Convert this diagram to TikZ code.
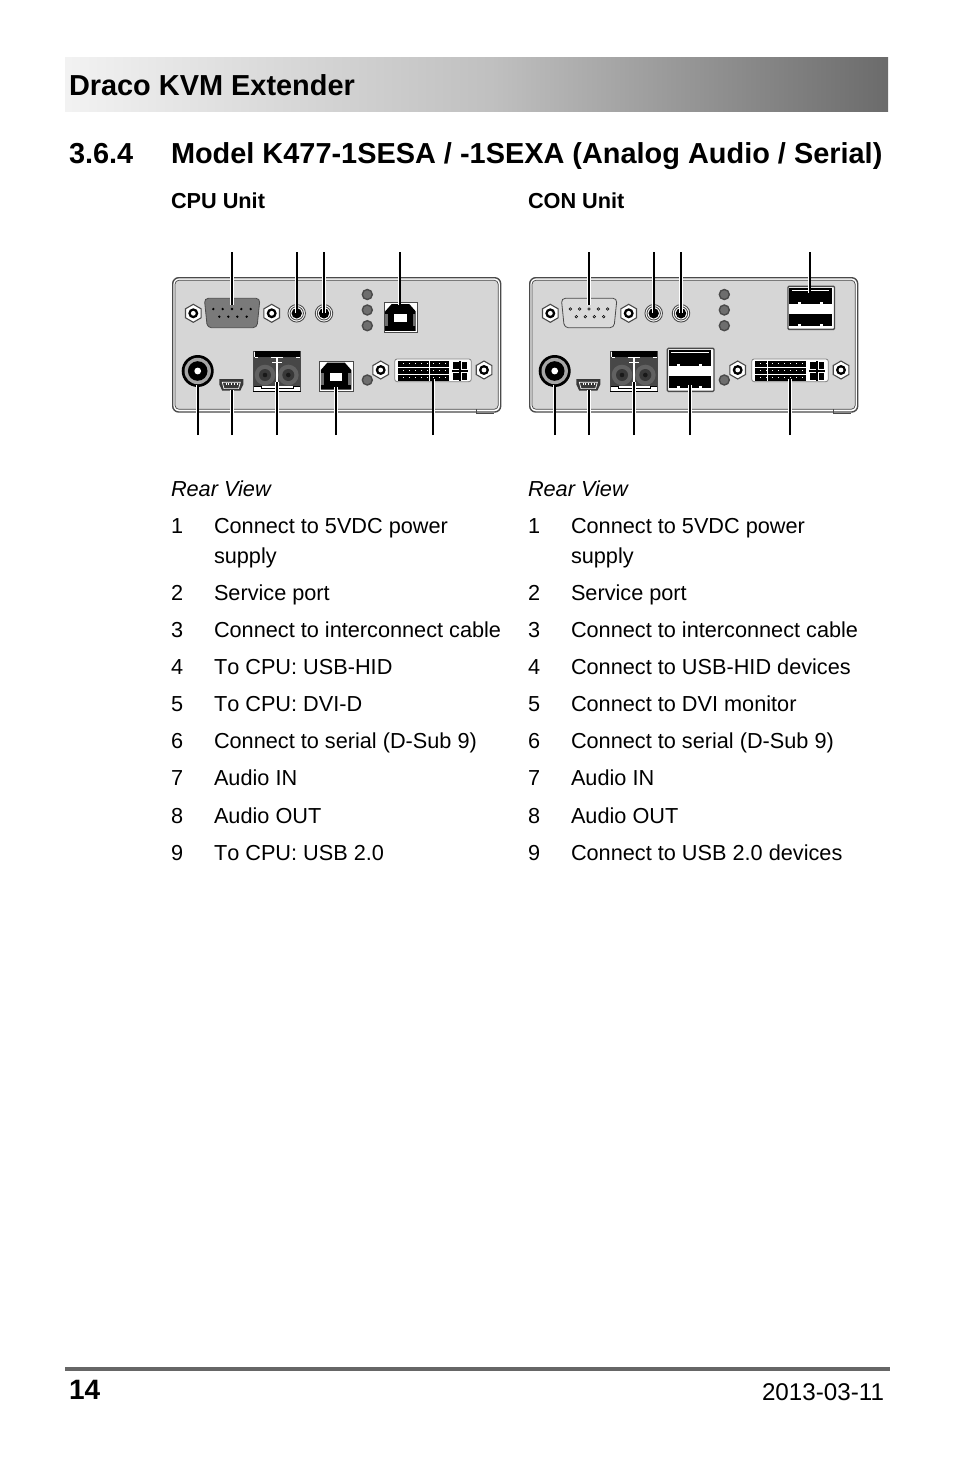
\documentclass[tikz,border=0pt]{standalone}
\usepackage{fontspec}
\setmainfont{Liberation Sans}
\usetikzlibrary{shapes.geometric}
\definecolor{panelgray}{HTML}{D6D6D6}
\definecolor{edgegray}{HTML}{4A4A4A}
\definecolor{ledgray}{HTML}{6E6E6E}
\definecolor{dsubdark}{HTML}{7A7A7A}
\definecolor{dsublight}{HTML}{DADADA}
\definecolor{rulegray}{HTML}{666666}
\tikzset{
  txt/.style={inner sep=0pt,outer sep=0pt,anchor=base west,text=black,font=\fontsize{21.7}{26}\selectfont},
  boldtxt/.style={txt,font=\fontsize{21.7}{26}\selectfont\bfseries},
  headtxt/.style={txt,font=\fontsize{28.9}{34}\selectfont\bfseries},
  leader/.style={line width=2pt,black,preaction={draw=white,line width=3.4pt}},
  screwnut/.style={regular polygon,regular polygon sides=6,regular polygon rotate=30,minimum size=18pt,inner sep=0pt,draw=edgegray,line width=1.1pt,fill=white},
  led/.style={circle,minimum size=10pt,inner sep=0pt,draw=edgegray,line width=1.4pt,fill=ledgray},
  portbox/.style={rectangle,inner sep=0pt,draw=edgegray,line width=1pt,fill=white},
}
\newcommand{\screw}[3]{%
  \node[screwnut] (#1) at (#2,#3) {};
  \fill[black] (#2,#3) circle (5);
  \fill[white] (#2,#3) circle (2.4);
}
\newcommand{\jack}[3]{%
  \node[circle,minimum size=17.5pt,inner sep=0pt,draw=edgegray,line width=.9pt,fill=white] (#1) at (#2,#3) {};
  \draw[edgegray,line width=.9pt] (#2,#3) circle (6.7);
  \fill[black] (#2,#3) circle (5.2);
}
\newcommand{\usbb}[3]{% name, left, top
  \node[portbox,minimum width=33.4pt,minimum height=30pt,anchor=north west] (#1) at (#2,#3) {};
  \begin{scope}[shift={(#2,#3)}]
    \fill[black] (1.5,28.5) -- (1.5,9) -- (8,1.7) -- (25.5,1.7) -- (32,9) -- (32,28.5) -- cycle;
    \fill[ledgray] (1.5,12) rectangle (4.5,24);
    \fill[ledgray] (29,12) rectangle (32,24);
    \fill[white] (10.5,11.5) rectangle (23,20);
  \end{scope}
}
\newcommand{\usba}[3]{% name, left, top
  \node[portbox,line width=1.3pt,rounded corners=1pt,minimum width=46.6pt,minimum height=43pt,anchor=north west] (#1) at (#2,#3) {};
  \begin{scope}[shift={(#2,#3)}]
    \fill[black] (2,2.5) rectangle (44.6,18);
    \fill[white] (4.5,4) rectangle (42,5.4);
    \fill[black] (2,28) rectangle (44.6,40.5);
    \fill[white] (10.5,16.2) rectangle (13.5,18);
    \fill[white] (32.5,16.2) rectangle (35.5,18);
    \fill[white] (10.5,38.7) rectangle (13.5,40.5);
    \fill[white] (32.5,38.7) rectangle (35.5,40.5);
  \end{scope}
}
% prefix, dsub fill, pin colour, pin hole colour, dvi split x
\newcommand{\panelcommon}[5]{%
  \fill[white,draw=edgegray,line width=1.4pt,rounded corners=6pt] (172.7,277.7) rectangle (500.7,412);
  \fill[panelgray,draw=edgegray,line width=.7pt,rounded corners=4pt] (175,280.2) rectangle (498.2,409.3);
  \draw[edgegray,line width=1pt] (476,409.3) -- (476,413) -- (494,413);
  % D-Sub
  \coordinate (#1-dsub) at (232,313);
  \filldraw[draw=edgegray,line width=.8pt,fill=#2,rounded corners=4pt] (204.3,298.3) -- (260,298.3) -- (257,327.7) -- (207.3,327.7) -- cycle;
  \foreach \px in {213.3,222.7,232,241.3,250.7} \fill[#3] (\px,309) circle (1.3);
  \foreach \px in {219.3,228.3,237.3,246.7} \fill[#3] (\px,316.7) circle (1.3);
  \screw{#1-s1}{193.3}{313.3}
  \screw{#1-s2}{271.7}{313.3}
  \jack{#1-j1}{296.7}{313.3}
  \jack{#1-j2}{324}{313.3}
  \node[led] (#1-l1) at (367.3,294.5) {};
  \node[led] (#1-l2) at (367.3,310) {};
  \node[led] (#1-l3) at (367.3,325.7) {};
  \node[led] (#1-l4) at (367.3,380) {};
  % power
  \node[circle,minimum size=32pt,inner sep=0pt,fill=black] (#1-pw) at (197.7,371) {};
  \fill[gray!70] (197.7,371) circle (13.2);
  \fill[black] (197.7,371) circle (9.8);
  \fill[white] (197.7,371) circle (3.4);
  % mini USB
  \coordinate (#1-mini) at (231.3,385);
  \fill[black!78] (219.3,379) -- (243.3,379) -- (243.3,384.5) -- (240.3,390.7) -- (222.3,390.7) -- (219.3,384.5) -- cycle;
  \draw[white,line width=.7pt] (222.3,382.3) -- (240.3,382.3) -- (238.6,388.6) -- (224,388.6) -- cycle;
  \foreach \px in {225.6,228.4,231.2,234,236.8} \fill[white] (\px,383) rectangle ++(.9,2);
  % fibre
  \node[rectangle,inner sep=0pt,minimum width=47.4pt,minimum height=40.7pt,fill=white,draw=edgegray,line width=.6pt] (#1-fib) at (277,371.3) {};
  \fill[black] (255,351) rectangle (300.2,356.7);
  \fill[black!72] (254,356.7) rectangle (276,386);
  \fill[black!72] (278,356.7) rectangle (300,386);
  \foreach \fx in {265,288.3} {
    \fill[black!62] (\fx,375) circle (10.3);
    \fill[black!78] (\fx,375) circle (6);
    \fill[black!90] (\fx,375) circle (2.3);
  }
  \fill[white] (271,356.7) rectangle (283,358);
  \fill[white] (275.7,358) rectangle (278.3,388);
  \fill[white] (272,361.5) rectangle (282,363);
  \fill[white] (254.5,356.7) rectangle (258,358);
  \fill[white] (296,356.7) rectangle (299.5,358);
  \fill[white] (254,386) rectangle (261,391);
  \fill[white] (293,386) rectangle (300,391);
  \draw[black,line width=1pt] (254,386) -- (261,386) -- (261,388) -- (293,388) -- (293,386) -- (300,386);
  \draw[black,line width=1pt] (253.3,391.2) -- (300.7,391.2);
  % DVI
  \screw{#1-s3}{380.7}{370}
  \screw{#1-s4}{484}{370}
  \node[rectangle,rounded corners=2.5pt,inner sep=0pt,minimum width=76.6pt,minimum height=22.7pt,fill=white,draw=gray,line width=.8pt] (#1-dvi) at (433,370.3) {};
  \foreach \ry/\rh in {361/5.6,368/5.6,375/5.6} {
    \fill[black] (398,\ry) rectangle (449.3,\ry+\rh);
    \fill[white] (#5-.5,\ry) rectangle (#5+.5,\ry+\rh);
    \foreach \dx in {403,409,415,421,427,433,439,445} \fill[white] (\dx,\ry+2.4) rectangle ++(1,1);
  }
  \fill[black] (453,362) rectangle (458.5,368.8);
  \fill[black] (461.5,362) rectangle (467,368.8);
  \fill[black] (453,373) rectangle (458.5,380);
  \fill[black] (461.5,373) rectangle (467,380);
  \fill[black] (452,370.4) rectangle (468,371.6);
  \fill[black] (459.4,360.5) rectangle (460.6,381);
  % list
  \node[txt,font=\fontsize{21.7}{26}\selectfont\itshape] (#1-rear) at (171,496) {Rear View};
  \node[txt] (#1-n1) at (171,533) {1};
  \node[txt] (#1-s1b) at (214,563) {supply};
  \node[txt] (#1-n2) at (171,600) {2};
  \node[txt] (#1-t2) at (214,600) {Service port};
  \node[txt] (#1-n3) at (171,637) {3};
  \node[txt] (#1-t3) at (214,637) {Connect to interconnect cable};
  \node[txt] (#1-t1) at (214,533) {Connect to 5VDC power};
  \node[txt] (#1-n4) at (171,674) {4};
  \node[txt] (#1-n5) at (171,711) {5};
  \node[txt] (#1-n6) at (171,748) {6};
  \node[txt] (#1-t6) at (214,748) {Connect to serial (D-Sub 9)};
  \node[txt] (#1-n7) at (171,785) {7};
  \node[txt] (#1-t7) at (214,785) {Audio IN};
  \node[txt] (#1-n8) at (171,823) {8};
  \node[txt] (#1-t8) at (214,823) {Audio OUT};
  \node[txt] (#1-n9) at (171,860) {9};
}
\newcommand{\leaderset}[1]{%
  \foreach \lname/\lx/\lya/\lyb in {a/232/252/305,b/296.7/252/313,c/323.8/252/313} {
    \coordinate (#1-\lname-from) at (\lx,\lya);
    \coordinate (#1-\lname-to) at (\lx,\lyb);
    \draw[leader] (#1-\lname-from) -- (#1-\lname-to);
  }
  \foreach \lname/\lx/\lya/\lyb in {e/197.7/435/385,f/232/435/390,g/277/435/382} {
    \coordinate (#1-\lname-from) at (\lx,\lya);
    \coordinate (#1-\lname-to) at (\lx,\lyb);
    \draw[leader] (#1-\lname-from) -- (#1-\lname-to);
  }
}
\begin{document}
\begin{tikzpicture}[x=1pt,y=-1pt]
\useasboundingbox (0,0) rectangle (954,1475);
\fill[white] (0,0) rectangle (954,1475);
% header band
\node[rectangle,inner sep=0pt,anchor=north west,minimum width=430pt,minimum height=54pt,left color=black!5,right color=black!25] (bandl) at (65,57) {};
\node[rectangle,inner sep=0pt,anchor=north west,minimum width=394pt,minimum height=54pt,left color=black!25,right color=black!58] (bandr) at (494,57) {};
\node[headtxt] (title) at (69,95) {Draco KVM Extender};
\node[headtxt] (secno) at (69,163) {3.6.4};
\node[headtxt] (sectitle) at (171,163) {Model K477-1SESA / -1SEXA (Analog Audio / Serial)};
\node[boldtxt] (cpuunit) at (171,208) {CPU Unit};
\node[boldtxt] (conunit) at (528,208) {CON Unit};
% CPU unit
\panelcommon{cpu}{dsubdark}{black}{black}{429.3}
\usbb{cpu-usbtop}{383.7}{302.3}
\usbb{cpu-usbbot}{319.3}{361}
\leaderset{cpu}
\coordinate (cpu-d-from) at (399.7,252);
\coordinate (cpu-d-to) at (399.7,305);
\draw[leader] (cpu-d-from) -- (cpu-d-to);
\coordinate (cpu-h-from) at (336,435);
\coordinate (cpu-h-to) at (336,387);
\draw[leader] (cpu-h-from) -- (cpu-h-to);
\coordinate (cpu-i-from) at (433.3,435);
\coordinate (cpu-i-to) at (433.3,378.5);
\draw[leader] (cpu-i-from) -- (cpu-i-to);
\node[txt] (cpu-t4) at (214,674) {T\kern0pt o CPU: USB-HID};
\node[txt] (cpu-t5) at (214,711) {T\kern0pt o CPU: DVI-D};
\node[txt] (cpu-t9) at (214,860) {T\kern0pt o CPU: USB 2.0};
% CON unit
\begin{scope}[shift={(357,0)}]
\panelcommon{con}{dsublight}{white}{black}{410.3}
\foreach \px in {213.3,222.7,232,241.3,250.7} \draw[black,line width=.6pt] (\px,309) circle (1.3);
\foreach \px in {219.3,228.3,237.3,246.7} \draw[black,line width=.6pt] (\px,316.7) circle (1.3);
\usba{con-usbtop}{430.3}{285.7}
\usba{con-usbbot}{309.7}{347.7}
\leaderset{con}
\coordinate (con-d-from) at (452.5,252);
\coordinate (con-d-to) at (452.5,293);
\draw[leader] (con-d-from) -- (con-d-to);
\coordinate (con-h-from) at (333,435);
\coordinate (con-h-to) at (333,385);
\draw[leader] (con-h-from) -- (con-h-to);
\coordinate (con-i-from) at (433,435);
\coordinate (con-i-to) at (433,378.5);
\draw[leader] (con-i-from) -- (con-i-to);
\node[txt] (con-t4) at (214,674) {Connect to USB-HID devices};
\node[txt] (con-t5) at (214,711) {Connect to DVI monitor};
\node[txt] (con-t9) at (214,860) {Connect to USB 2.0 devices};
\end{scope}
% footer
\coordinate (rule-a) at (65,1369);
\coordinate (rule-b) at (890,1369);
\draw[rulegray,line width=4pt] (rule-a) -- (rule-b);
\node[headtxt,font=\fontsize{28}{34}\selectfont\bfseries] (pageno) at (69,1399) {14};
\node[txt,anchor=base east,font=\fontsize{24.2}{28}\selectfont] (date) at (884,1400) {2013-03-11};
\end{tikzpicture}
\end{document}
